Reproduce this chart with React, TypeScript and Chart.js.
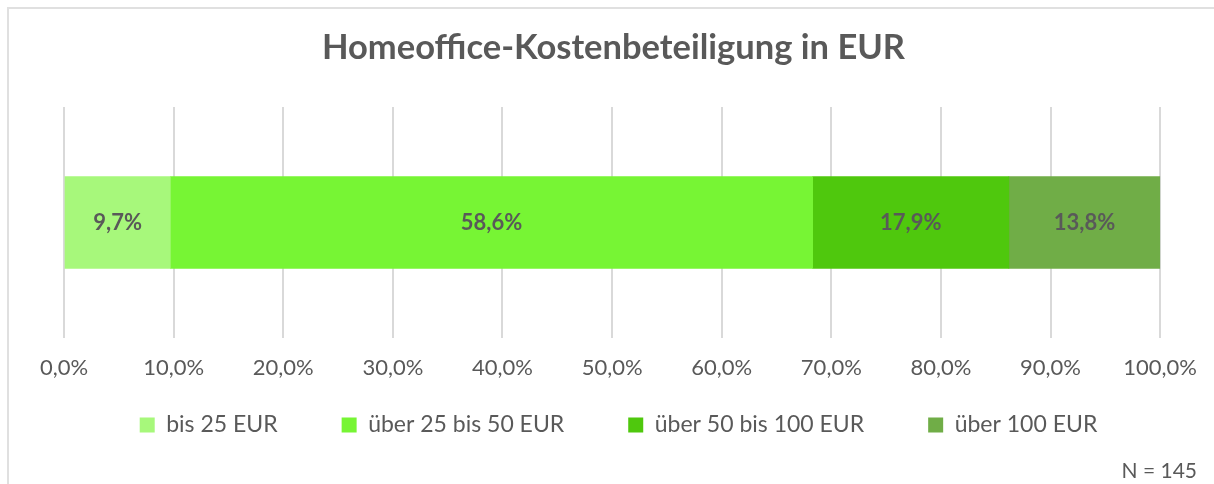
import React, { useEffect, useRef } from "react";
import { Chart, registerables } from "chart.js";

Chart.register(...registerables);

const chartTitle = "Homeoffice-Kostenbeteiligung in EUR";
const categories = [""];
const seriesLabels = ["bis 25 EUR", "über 25 bis 50 EUR", "über 50 bis 100 EUR", "über 100 EUR"];
const bis25 = [9.7];
const ueber25bis50 = [58.6];
const ueber50bis100 = [17.9];
const ueber100 = [13.8];
const seriesColors = ["#A7F87B", "#77F534", "#4FC80D", "#70AD47"];
const footnote = "N = 145";

const FONT = "Lato, 'Open Sans', sans-serif";
const TEXT = "#595959";
const LEGEND_FONT = 23;
const LEGEND_PAD = 64;

const fmt = (v: number) => v.toFixed(1).replace(".", ",") + "%";

const valueLabels = {
  id: "valueLabels",
  afterDatasetsDraw(chart: any) {
    const ctx = chart.ctx;
    ctx.save();
    ctx.font = `bold 22px ${FONT}`;
    ctx.fillStyle = TEXT;
    ctx.textAlign = "center";
    ctx.textBaseline = "middle";
    chart.data.datasets.forEach((ds: any, di: number) => {
      const meta = chart.getDatasetMeta(di);
      meta.data.forEach((el: any, i: number) => {
        const x = (el.x + el.base) / 2;
        ctx.fillText(fmt(ds.data[i]), x, el.y);
      });
    });
    ctx.restore();
  },
};

const footnotePlugin = {
  id: "footnote",
  afterLayout(chart: any) {
    const lg = chart.legend;
    if (lg) {
      const targetTop = 425 - LEGEND_FONT / 2 - LEGEND_PAD;
      const dy = targetTop - lg.top;
      lg.top += dy;
      lg.bottom += dy;
      lg.left += 5;
      lg.right += 5;
    }
  },
  afterDraw(chart: any) {
    const ctx = chart.ctx;
    ctx.save();
    ctx.font = `21px ${FONT}`;
    ctx.fillStyle = TEXT;
    ctx.textAlign = "right";
    ctx.textBaseline = "middle";
    ctx.fillText(footnote, 1197, 471);
    ctx.restore();
  },
};

export default function App() {
  const ref = useRef<HTMLCanvasElement | null>(null);
  useEffect(() => {
    if (!ref.current) return;
    const series = [bis25, ueber25bis50, ueber50bis100, ueber100];
    const chart = new Chart(ref.current, {
      type: "bar",
      data: {
        labels: categories,
        datasets: series.map((d, i) => ({
          label: seriesLabels[i],
          data: d,
          backgroundColor: seriesColors[i],
          borderWidth: 0,
          barThickness: 92,
        })),
      },
      options: {
        indexAxis: "y",
        animation: false,
        responsive: false,
        maintainAspectRatio: false,
        layout: { padding: { left: 64, right: 51, top: 0, bottom: 5 } },
        scales: {
          x: {
            stacked: true,
            min: 0,
            max: 100,
            afterFit: (scale: any) => {
              scale.height = 44;
            },
            ticks: {
              stepSize: 10,
              color: TEXT,
              font: { family: FONT, size: 22 },
              padding: 17,
              maxRotation: 0,
              callback: (v: any) => fmt(Number(v)),
            },
            grid: { color: "#D9D9D9", lineWidth: 2, drawTicks: false },
            border: { display: false },
          },
          y: {
            stacked: true,
            display: false,
          },
        },
        plugins: {
          title: {
            display: true,
            text: chartTitle,
            color: TEXT,
            font: { family: FONT, size: 34.5, weight: "bold" },
            padding: { top: 27.3, bottom: 38.3 },
          },
          legend: {
            position: "bottom",
            labels: {
              boxWidth: 15,
              boxHeight: 15,
              padding: LEGEND_PAD,
              color: TEXT,
              font: { family: FONT, size: LEGEND_FONT },
            },
          },
          tooltip: { enabled: false },
        },
      },
      plugins: [valueLabels, footnotePlugin],
    });
    return () => chart.destroy();
  }, []);

  return (
    <div style={{ position: "fixed", left: 0, top: 0, width: 1214, height: 484, background: "#fff" }}>
      <canvas ref={ref} width={1214} height={484} style={{ position: "absolute", left: 0, top: 0 }} />
      <div
        style={{
          position: "absolute",
          left: 7,
          top: 7,
          right: 0,
          bottom: 0,
          borderTop: "2px solid #E0E0E0",
          borderLeft: "2px solid #E0E0E0",
          pointerEvents: "none",
        }}
      />
    </div>
  );
}
